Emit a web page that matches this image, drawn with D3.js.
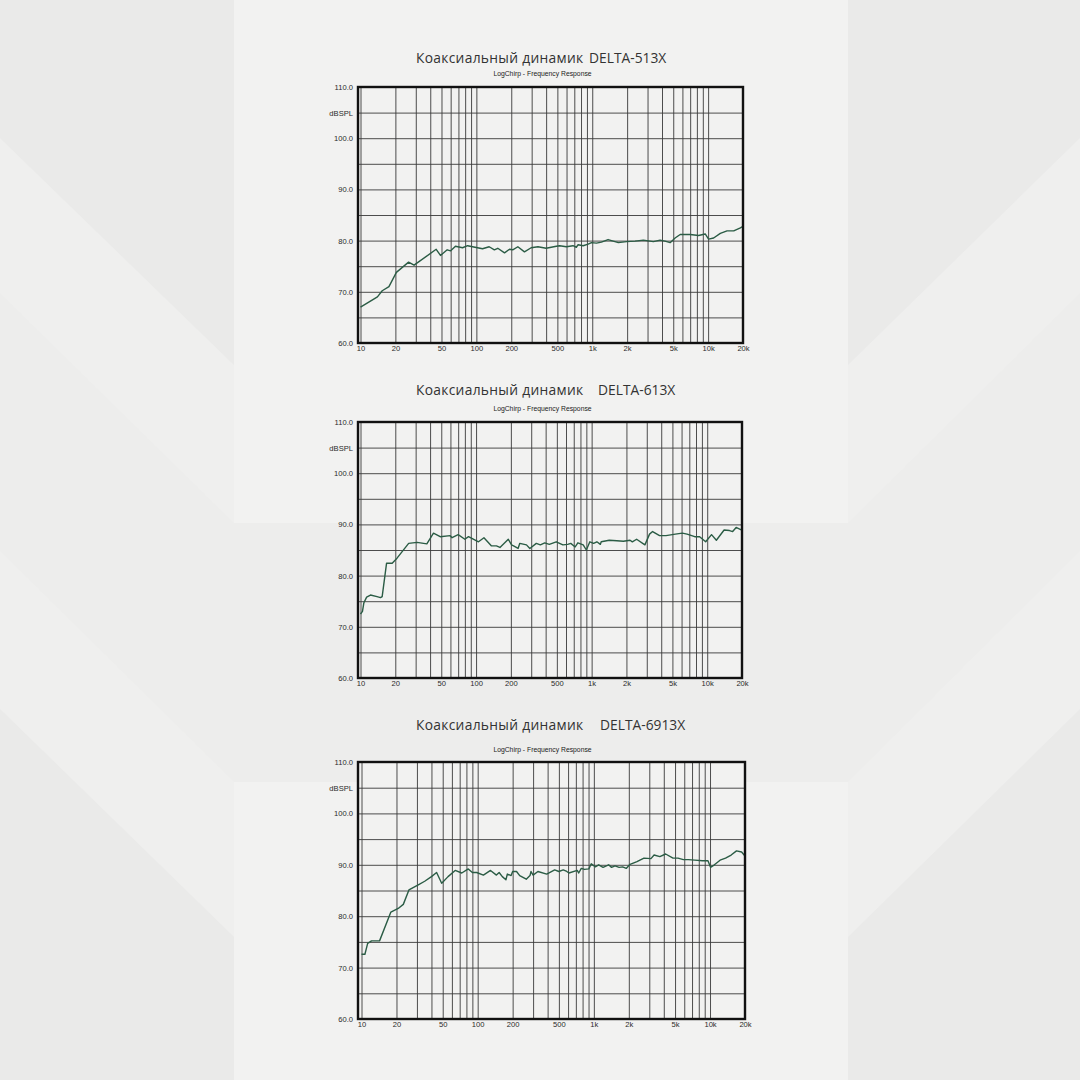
<!DOCTYPE html>
<html><head><meta charset="utf-8">
<script src="https://cdn.jsdelivr.net/npm/d3@7"></script>
<style>body{margin:0;background:#f0f0ef}svg{display:block}</style>
</head><body>
<svg id="c" width="1080" height="1080"></svg>
<script>
// ---------- DATA ----------
const titleLeft = "Коаксиальный динамик";
const models = ["DELTA-513X", "DELTA-613X", "DELTA-6913X"];
const subtitle = "LogChirp - Frequency Response";
const xTickValues = [10, 20, 50, 100, 200, 500, 1000, 2000, 5000, 10000, 20000];
const xTickLabels = ["10", "20", "50", "100", "200", "500", "1k", "2k", "5k", "10k", "20k"];
const yTickValues = [110, 105, 100, 95, 90, 85, 80, 75, 70, 65, 60];
const yTickLabels = ["110.0", "dBSPL", "100.0", "", "90.0", "", "80.0", "", "70.0", "", "60.0"];

const freq513 = [10, 14, 15.4, 17.6, 20.4, 26, 29, 45, 49, 56, 60, 66, 76, 84, 113, 129, 143, 153, 175, 193, 206, 228, 260, 297, 340, 400, 490, 523, 598, 682, 729, 755, 834, 922, 985, 1087, 1200, 1370, 1570, 1680, 1980, 2340, 2760, 3370, 3850, 4250, 4700, 5190, 5740, 7000, 8270, 9440, 10090, 11160, 12740, 14560, 16630, 18980, 20000];
const db513   = [67.0, 69.0, 70.2, 71.0, 73.8, 75.8, 75.2, 78.3, 77.1, 78.2, 78.0, 78.9, 78.6, 79.0, 78.4, 78.8, 78.2, 78.5, 77.6, 78.3, 78.2, 78.8, 77.8, 78.6, 78.8, 78.5, 78.9, 79.0, 78.8, 79.0, 78.7, 79.2, 79.0, 79.3, 79.6, 79.5, 79.7, 80.2, 79.8, 79.6, 79.8, 79.9, 80.1, 79.8, 80.1, 79.9, 79.6, 80.5, 81.2, 81.2, 81.0, 81.3, 80.3, 80.5, 81.4, 81.9, 81.9, 82.5, 82.8];

const freq613 = [10, 10.4, 10.7, 11.3, 12.2, 13.9, 14.9, 15.4, 16.8, 18.8, 20.7, 26.1, 30.9, 37.5, 42.8, 48.9, 59.7, 62, 70, 80, 86, 105, 117, 136, 150, 161, 190, 203, 215, 231, 239, 273, 292, 332, 360, 393, 430, 494, 564, 620, 660, 720, 760, 845, 900, 965, 1040, 1110, 1190, 1210, 1420, 1650, 1880, 2150, 2250, 2450, 2890, 3170, 3370, 3870, 4400, 5300, 6100, 6700, 7800, 8600, 9700, 10900, 12000, 14000, 15600, 16600, 17800, 19500, 20000];
const db613   = [72.5, 73.0, 74.7, 75.8, 76.2, 75.9, 75.7, 75.9, 82.4, 82.4, 83.4, 86.3, 86.5, 86.2, 88.3, 87.6, 87.8, 87.4, 88.0, 87.1, 87.6, 86.6, 87.4, 85.8, 85.8, 85.5, 87.1, 86.0, 85.7, 85.3, 86.3, 86.0, 85.3, 86.3, 86.0, 86.4, 86.1, 86.6, 86.0, 86.1, 86.3, 85.6, 86.4, 86.0, 85.0, 86.6, 86.3, 86.6, 86.1, 86.6, 86.9, 86.8, 86.7, 86.9, 86.6, 87.1, 86.0, 88.1, 88.6, 87.8, 87.8, 88.1, 88.3, 88.1, 87.6, 87.6, 86.6, 88.0, 86.9, 88.9, 88.8, 88.6, 89.4, 89.0, 88.9];

const freq6913 = [10, 10.7, 11.3, 12.2, 14.3, 17.9, 20.7, 22.9, 25.6, 30.8, 35, 40, 44.3, 49, 55.6, 64, 73, 83, 90, 98, 112, 129, 145, 153, 163, 175, 180, 194, 200, 216, 230, 262, 282, 288, 300, 330, 393, 460, 500, 545, 585, 610, 720, 740, 780, 830, 905, 950, 1030, 1100, 1200, 1340, 1420, 1520, 1650, 1770, 1900, 2050, 2350, 2700, 3100, 3300, 3700, 4150, 4800, 5300, 5900, 6500, 7400, 8600, 9600, 10100, 10900, 12200, 13600, 15200, 16900, 18700, 20000];
const db6913   = [72.6, 72.6, 74.7, 75.2, 75.2, 80.8, 81.5, 82.3, 85.1, 86.1, 86.8, 87.7, 88.5, 86.4, 87.7, 88.9, 88.4, 89.2, 88.5, 88.5, 88.0, 88.9, 88.0, 88.5, 87.7, 87.1, 88.2, 87.9, 88.7, 88.7, 87.9, 87.2, 87.9, 88.7, 88.0, 88.7, 88.2, 89.0, 88.7, 89.0, 88.7, 88.4, 88.9, 88.4, 89.3, 89.1, 89.2, 90.2, 89.6, 90.0, 89.5, 90.0, 89.5, 89.8, 89.5, 89.6, 89.3, 90.1, 90.6, 91.3, 91.2, 91.9, 91.6, 92.1, 91.3, 91.3, 91.0, 91.0, 90.9, 90.8, 90.8, 89.5, 90.0, 90.9, 91.3, 91.9, 92.7, 92.5, 91.7];

// ---------- LAYOUT ----------
const charts = [
  {model: models[0], freq: freq513,  db: db513,  top: 87,  bottom: 343,  fx0: 358, x0: 360.5, x1: 743, titleY: 62.5, modelX: 589, subY: 76},
  {model: models[1], freq: freq613,  db: db613,  top: 422, bottom: 678,  fx0: 358, x0: 360.5, x1: 742, titleY: 394.5, modelX: 598, subY: 410.5},
  {model: models[2], freq: freq6913, db: db6913, top: 762, bottom: 1019, fx0: 358, x0: 361.5, x1: 745, titleY: 729.5, modelX: 600, subY: 751.5}
];

const svg = d3.select("#c");

// background chevron panels (subtle)
svg.append("rect").attr("width", 1080).attr("height", 1080).attr("fill", "#efefee");
svg.append("rect").attr("x", 234).attr("width", 614).attr("height", 1080).attr("fill", "#f2f2f1");
const polys = [
  [[0,0],[234,0],[234,365],[0,138]],
  [[0,293],[234,523],[848,523],[1080,293],[1080,551],[848,782],[234,782],[0,551]],
  [[0,709],[234,937],[234,1080],[0,1080]],
  [[848,0],[1080,0],[1080,138],[848,365]],
  [[848,937],[1080,709],[1080,1080],[848,1080]]
];
polys.forEach((p, i) => svg.append("polygon")
  .attr("points", p.map(d => d.join(",")).join(" "))
  .attr("fill", i === 1 ? "#ededec" : "#eaeae9"));

const vGrid = [];
[10, 100, 1000].forEach(dec => { for (let k = 1; k <= 9; k++) vGrid.push(dec * k); });
vGrid.push(10000, 20000);

charts.forEach((c, ci) => {
  const g = svg.append("g");
  const x = d3.scaleLog().domain([10, 20000]).range([c.x0, c.x1]);
  const y = d3.scaleLinear().domain([60, 110]).range([c.bottom, c.top]);

  // titles
  g.append("text").attr("x", 416).attr("y", c.titleY)
    .attr("font-family", "Open Sans, Lato, sans-serif").attr("font-size", 13.8).attr("font-weight", 400)
    .attr("fill", "#333").attr("letter-spacing", 0.3).text(titleLeft);
  g.append("text").attr("x", c.modelX).attr("y", c.titleY)
    .attr("font-family", "Open Sans, Lato, sans-serif").attr("font-size", 13.8).attr("font-weight", 400)
    .attr("fill", "#333").text(c.model);
  g.append("text").attr("x", 542.5).attr("y", c.subY).attr("text-anchor", "middle")
    .attr("font-family", "Liberation Sans, Arial, sans-serif").attr("font-size", 6.8)
    .attr("fill", "#222").text(subtitle);

  // plot background
  g.append("rect").attr("x", c.fx0).attr("y", c.top).attr("width", c.x1 - c.fx0).attr("height", c.bottom - c.top)
    .attr("fill", "#f2f2f1");

  // vertical grid
  const vg = g.append("g").attr("transform", `translate(0,${c.bottom})`)
    .call(d3.axisBottom(x).tickValues(vGrid).tickSize(-(c.bottom - c.top)).tickFormat(""));
  vg.select(".domain").remove();
  vg.selectAll("line").attr("stroke", "#3a3a3a").attr("stroke-width", 0.9);

  // horizontal grid
  const hg = g.append("g").attr("transform", `translate(${c.fx0},0)`)
    .call(d3.axisLeft(y).tickValues(yTickValues).tickSize(-(c.x1 - c.fx0)).tickFormat(""));
  hg.select(".domain").remove();
  hg.selectAll("line").attr("stroke", "#3a3a3a").attr("stroke-width", 0.9);

  // y labels
  const ya = g.append("g").attr("transform", `translate(${c.fx0 - 5},0)`)
    .call(d3.axisLeft(y).tickValues(yTickValues).tickSize(0).tickPadding(0)
      .tickFormat((d, i) => yTickLabels[i]));
  ya.select(".domain").remove();
  ya.selectAll("text").attr("font-family", "Liberation Sans, Arial, sans-serif")
    .attr("font-size", 7.6).attr("fill", "#2a2a2a");

  // x labels
  const xa = g.append("g").attr("transform", `translate(0,${c.bottom + 3})`)
    .call(d3.axisBottom(x).tickValues(xTickValues).tickSize(0).tickPadding(0)
      .tickFormat((d, i) => xTickLabels[i]));
  xa.select(".domain").remove();
  xa.selectAll("text").attr("font-family", "Liberation Sans, Arial, sans-serif")
    .attr("font-size", 7.6).attr("fill", "#2a2a2a");

  // curve
  const pts = c.freq.map((f, i) => [f, c.db[i]]);
  const line = d3.line().x(d => x(d[0])).y(d => y(d[1]));
  g.append("path").datum(pts).attr("d", line)
    .attr("fill", "none").attr("stroke", "#2b5c45").attr("stroke-width", 1.4)
    .attr("stroke-linejoin", "round");

  // frame
  g.append("rect").attr("x", c.fx0).attr("y", c.top).attr("width", c.x1 - c.fx0).attr("height", c.bottom - c.top)
    .attr("fill", "none").attr("stroke", "#111").attr("stroke-width", 2.4);
});
</script>
</body></html>
